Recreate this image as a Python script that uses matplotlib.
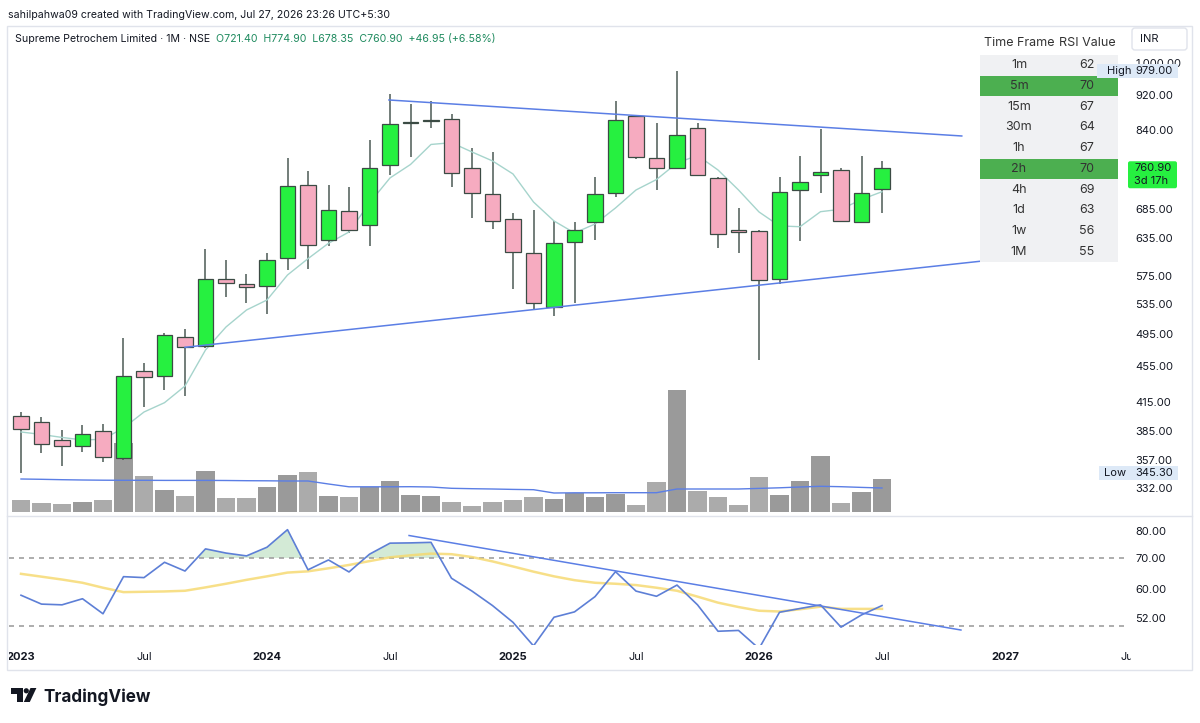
import numpy as np
import matplotlib.pyplot as plt
from matplotlib.patches import Rectangle, FancyBboxPatch, Polygon, Circle
from matplotlib.ticker import FixedLocator, FixedFormatter, NullLocator
from matplotlib.transforms import blended_transform_factory

plt.rcParams['font.family'] = ['Inter', 'DejaVu Sans']

# monthly candles, Jan 2023 .. Jul 2026
opens = [400, 394, 376, 370, 385, 359, 450, 444, 491, 480, 571, 564, 560, 603, 729, 631,
         681, 656, 767, 855, 860, 864, 761, 712, 667, 611, 531, 628, 662, 713, 871, 781,
         762, 845, 742, 648, 647, 571, 719, 748, 757, 662, 721.40]
highs = [404, 399, 386, 391, 392, 490, 459, 496, 502, 617, 599, 579, 611, 781, 756, 728,
         724, 818, 923, 899, 905, 876, 801, 794, 678, 683, 663, 661, 743, 905, 873, 855,
         979, 855, 744, 686, 649, 743, 785, 843, 762, 786, 774.90]
lows = [345.30, 363, 351, 364, 355, 357, 409, 428, 421, 477, 545, 536, 521, 584, 586, 622,
        644, 622, 748, 783, 844, 724, 669, 650, 556, 528, 518, 537, 631, 706, 779, 719,
        760, 746, 618, 610, 463, 564, 630, 714, 662, 660, 678.35]
closes = [387, 372, 370, 382, 360, 444, 443, 493, 478, 571, 565, 559, 599, 727, 623, 682,
          649, 762, 854, 857, 862, 752, 713, 664, 612, 536, 627, 648, 712, 862, 784, 762,
          829, 748, 641, 645, 569, 715, 735, 754, 664, 713.95, 760.90]
volumes = [12, 9, 8.3, 10.3, 12.3, 68.7, 36, 21.7, 16.3, 40.7, 14.3, 14.3, 25.3, 37.3, 39.7, 16,
           15, 24.7, 31, 17.3, 16.3, 9.7, 6, 10.3, 12.3, 15.3, 12.7, 19.3, 15.3, 18.3, 7.3, 30.3,
           121.7, 21.3, 15.3, 7, 34.7, 16.7, 30.7, 56, 9.3, 20, 33.3]
vol_ma = [33, 32.7, 32.3, 32, 31.8, 31.7, 31.7, 31.6, 31.6, 31.6, 31.5, 31.3, 31.2, 31, 31, 28,
          25.2, 25.2, 25.2, 25.3, 25, 23.7, 23.3, 23, 22.6, 22.3, 19, 19.2, 19.2, 19.3, 19.3, 19.3,
          23, 23, 23, 23, 23.6, 24.2, 25, 25.7, 25.3, 24.6, 24]
price_ma = [383.8, 381.3, 378.4, 375.9, 376.6, 387.8, 404.2, 414.1, 432.4, 474.8, 504, 526.7,
            540.6, 576.8, 601.8, 626.3, 644.9, 695.3, 742, 768.4, 809.4, 813.1, 793.7, 775.5,
            749.7, 697.1, 663.6, 643.3, 658.4, 686.4, 719.2, 739, 771.4, 786.6, 757.5, 719.2,
            679.3, 655.1, 653.8, 679.8, 684.1, 701.7, 716]
rsi = [58.2, 55.7, 55.5, 57.2, 53.1, 63.8, 63.5, 68.5, 65.6, 73.2, 71.7, 70.7, 73.8, 80.5, 66.0,
       69.3, 65.3, 71.3, 75.3, 75.4, 75.6, 63.3, 59.4, 55.3, 50.9, 45.3, 52.2, 53.6, 57.8, 65.4,
       59.4, 57.9, 61.2, 55.5, 48.7, 48.9, 44.7, 53.5, 54.5, 55.5, 49.7, 52.8, 55.3]
rsi_ma = [64.7, 63.8, 62.9, 61.9, 60.4, 59.1, 59.2, 59.3, 59.5, 60.5, 61.6, 62.8, 63.9, 65.1,
          65.5, 66.5, 67.6, 68.9, 70.2, 70.9, 71.5, 71.3, 70.3, 68.8, 67.1, 65.4, 63.9, 62.7,
          61.9, 61.6, 61.2, 60.4, 59.5, 57.8, 56.1, 54.9, 53.9, 53.7, 54.3, 55.0, 54.4, 54.4, 54.4]

# trendline anchors: (month index, value)
upper_tl = ([17.95, 45.89], [908.4, 827.4])
lower_tl = ([8.0, 46.78], [478.1, 597.7])
rsi_tl = ([18.93, 45.85], [78.2, 49.0])

price_ticks = [1000, 920, 840, 685, 635, 575, 535, 495, 455, 415, 385, 357, 332]
rsi_ticks = [80, 70, 60, 52]
time_ticks = [0, 6, 12, 18, 24, 30, 36, 42, 48, 54]
time_labels = ['2023', 'Jul', '2024', 'Jul', '2025', 'Jul', '2026', 'Jul', '2027', 'Jul']

tf_names = ['1m', '5m', '15m', '30m', '1h', '2h', '4h', '1d', '1w', '1M']
tf_rsi = [62, 70, 67, 64, 67, 70, 69, 63, 56, 55]

GREEN = '#26f040'
PINK = '#f6abc0'
EDGE = '#3b4b44'
BLUE = '#5b7ee5'
TXT = '#131722'

W, H = 1200, 723
fig = plt.figure(figsize=(W / 100, H / 100), dpi=100)


def px_box(x0, y0, x1, y1):
    return [x0 / W, 1 - y1 / H, (x1 - x0) / W, (y1 - y0) / H]


o = np.array(opens)
c = np.array(closes)
hi = np.array(highs)
lo = np.array(lows)
x = np.arange(len(o))
up = c >= o

# volume (behind candles)
ax_vol = fig.add_axes(px_box(9, 28, 1127, 514), zorder=1)
ax_vol.bar(x, volumes, width=0.91, color=np.where(up, '#9a9a9a', '#ababab'), lw=0)
ax_vol.plot(x, vol_ma, color=BLUE, lw=1.0)
ax_vol.set_ylim(-2, 484)
ax_vol.axis('off')

# price pane
ax = fig.add_axes(px_box(9, 28, 1127, 514), zorder=2, sharex=ax_vol)
ax.patch.set_visible(False)
ax.set_yscale('log')
ax.vlines(x, lo, hi, color='#4b5a55', lw=1.1, zorder=2)
ax.plot(x, price_ma, color='#a6d4cc', lw=1.0, zorder=2.5)
heights = np.maximum(np.abs(c - o), o * 0.003)
ax.bar(x, heights, bottom=np.minimum(o, c), width=0.74,
       color=np.where(up, GREEN, PINK), edgecolor=EDGE, linewidth=0.9, zorder=3)
ax.plot(*upper_tl, color=BLUE, lw=1.1, zorder=4)
ax.plot(*lower_tl, color=BLUE, lw=1.1, zorder=4)
ax.set_xlim(-0.585, 53.95)
ax.set_ylim(310.2, 1095)
ax.yaxis.tick_right()
ax.yaxis.set_major_locator(FixedLocator(price_ticks))
ax.yaxis.set_major_formatter(FixedFormatter([f'{v:,.2f}' for v in price_ticks]))
ax.yaxis.set_minor_locator(NullLocator())
ax.tick_params(axis='y', length=0, pad=6, labelsize=8, labelcolor=TXT)
ax.tick_params(axis='x', bottom=False, labelbottom=False)
for s in ax.spines.values():
    s.set_visible(False)

# RSI pane
ax_rsi = fig.add_axes(px_box(9, 517, 1127, 645), sharex=ax)
ax_rsi.set_yscale('log')
r = np.array(rsi)
ax_rsi.fill_between(x, r, 70, where=r > 70, interpolate=True, color='#d3ead6', lw=0)
ax_rsi.axhline(70, color='#a0a0a0', lw=1.2, ls=(0, (3, 3)))
ax_rsi.axhline(50, color='#a0a0a0', lw=1.2, ls=(0, (3, 3)))
ax_rsi.plot(x, rsi_ma, color='#f6d86b', alpha=0.8, lw=1.8)
ax_rsi.plot(x, r, color='#5d7fd6', lw=1.2)
ax_rsi.plot(*rsi_tl, color=BLUE, lw=1.1)
ax_rsi.set_ylim(45.5, 85.7)
ax_rsi.yaxis.tick_right()
ax_rsi.yaxis.set_major_locator(FixedLocator(rsi_ticks))
ax_rsi.yaxis.set_major_formatter(FixedFormatter([f'{v:.2f}' for v in rsi_ticks]))
ax_rsi.yaxis.set_minor_locator(NullLocator())
ax_rsi.tick_params(axis='y', length=0, pad=6, labelsize=8, labelcolor=TXT)
ax_rsi.tick_params(axis='x', bottom=False, labelbottom=False)
ax_rsi.patch.set_visible(False)
for s in ax_rsi.spines.values():
    s.set_visible(False)

# time axis labels (clipped at the price scale)
ax_time = fig.add_axes(px_box(9, 647, 1131, 667))
ax_time.set_xlim(-0.585, 53.95 + 4 / 20.5)
ax_time.axis('off')
tr = blended_transform_factory(ax_time.transData, ax_time.transAxes)
for m, lab in zip(time_ticks, time_labels):
    ax_time.text(m, 0.5, lab, transform=tr, ha='center', va='center', fontsize=8,
                 color=TXT, fontweight='bold' if lab != 'Jul' else 'normal', clip_on=True)

# overlay in pixel coordinates
ui = fig.add_axes([0, 0, 1, 1], zorder=10)
ui.set_xlim(0, W)
ui.set_ylim(H, 0)
ui.axis('off')


def ypx(p):
    return H - ax.transData.transform((0, p))[1]


ui.add_patch(Rectangle((7, 26), 1185, 644, fill=False, ec='#e0e3eb', lw=1))
ui.plot([7, 1192], [515.5, 515.5], color='#e0e3eb', lw=1)
ui.text(8, 15, 'sahilpahwa09 created with TradingView.com, Jul 27, 2026 23:26 UTC+5:30',
        fontsize=7.6, color=TXT, va='center')

chg = closes[-1] - closes[-2]
t1 = ui.text(15, 39, 'Supreme Petrochem Limited · 1M · NSE  ', fontsize=7.6, color=TXT, va='center')
ui.annotate(f'O{opens[-1]:.2f}  H{highs[-1]:.2f}  L{lows[-1]:.2f}  C{closes[-1]:.2f}  '
            f'+{chg:.2f} (+{chg / closes[-2] * 100:.2f}%)',
            xy=(1, 0.5), xycoords=t1, va='center', fontsize=7.6, color='#1e8a5e')

ui.add_patch(FancyBboxPatch((1132, 28), 55, 22, boxstyle='round,pad=0,rounding_size=3',
                            fc='white', ec='#e0e3eb', lw=1))
ui.text(1140, 39, 'INR', fontsize=8, color=TXT, va='center')

# RSI table
row_h = 20.7
ui.text(1019, 43.5, 'Time Frame', fontsize=9, color='#333333', ha='center', va='center')
ui.text(1087, 43.5, 'RSI Value', fontsize=9, color='#333333', ha='center', va='center')
ui.add_patch(Rectangle((980, 55), 138, row_h * len(tf_names), fc='#f0f1f3', lw=0))
for i, (n, v) in enumerate(zip(tf_names, tf_rsi)):
    y0 = 55 + i * row_h
    if v >= 70:
        ui.add_patch(Rectangle((980, y0), 138, row_h, fc='#4caf50', lw=0))
    ui.text(1019, y0 + row_h / 2, n, fontsize=9, color='#333333', ha='center', va='center')
    ui.text(1087, y0 + row_h / 2, str(v), fontsize=9, color='#333333', ha='center', va='center')

# high / low / last price markers
yh = ypx(max(highs))
ui.add_patch(Rectangle((1097, yh - 7), 81, 14, fc='#dde9f7', lw=0))
ui.text(1107, yh, 'High', fontsize=8, color=TXT, va='center')
ui.text(1135.5, yh, f'{max(highs):.2f}', fontsize=8, color=TXT, va='center')
yl = ypx(min(lows))
ui.add_patch(Rectangle((1099, yl - 7), 79, 14, fc='#dde9f7', lw=0))
ui.text(1104, yl, 'Low', fontsize=8, color=TXT, va='center')
ui.text(1135.5, yl, f'{min(lows):.2f}', fontsize=8, color=TXT, va='center')
yc = ypx(closes[-1])
ui.add_patch(FancyBboxPatch((1128, yc - 7), 49, 27, boxstyle='round,pad=0,rounding_size=2',
                            fc=GREEN, lw=0))
ui.text(1134, yc, f'{closes[-1]:.2f}', fontsize=8, color=TXT, va='center')
ui.text(1134, yc + 13, '3d 17h', fontsize=8, color=TXT, va='center')

# TradingView logo
ui.add_patch(Rectangle((10.7, 688), 12.3, 5.5, fc=TXT, lw=0))
ui.add_patch(Rectangle((17, 688), 6, 14, fc=TXT, lw=0))
ui.add_patch(Circle((26.3, 690.8), 2.6, fc=TXT, lw=0))
ui.add_patch(Polygon([(30.5, 688), (36.4, 688), (29.8, 702), (23.8, 702)], fc=TXT, lw=0))
ui.text(43, 701.5, 'TradingView', fontsize=12.3, fontweight='bold', color=TXT, va='baseline')

fig.savefig('out.png', dpi=100)
